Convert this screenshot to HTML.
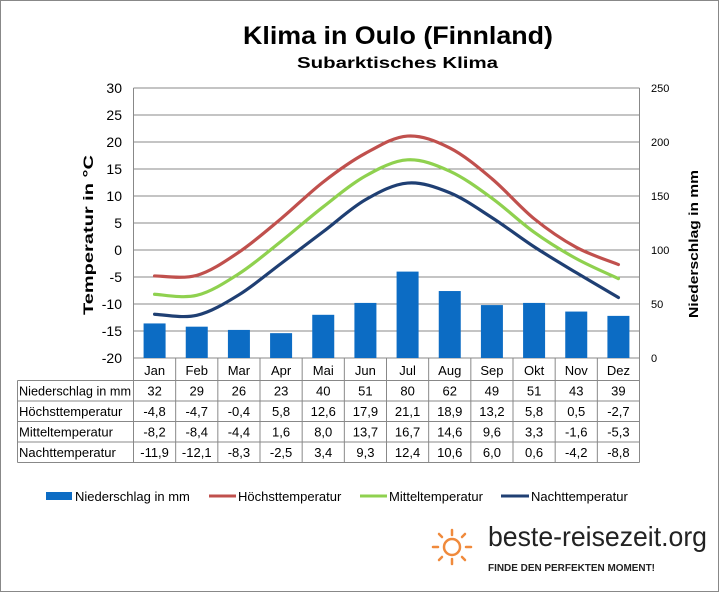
<!DOCTYPE html>
<html><head><meta charset="utf-8"><style>
html,body{margin:0;padding:0;background:#fff}
svg{display:block;font-family:"Liberation Sans",Arial,sans-serif}
</style></head><body>
<svg id="chart" width="720" height="593" viewBox="0 0 720 593">
<rect x="0.5" y="0.5" width="718" height="591" fill="#fff" stroke="#888"/>
<text x="243" y="44" textLength="310" lengthAdjust="spacingAndGlyphs" font-size="25" font-weight="bold">Klima in Oulo (Finnland)</text>
<text x="297" y="68" textLength="201" lengthAdjust="spacingAndGlyphs" font-size="16" font-weight="bold">Subarktisches Klima</text>
<g id="grid"></g>
<g id="bars"></g>
<g id="lines"></g>
<g id="table"></g>
<text transform="translate(93,315) rotate(-90)" textLength="160" lengthAdjust="spacingAndGlyphs" font-size="14" font-weight="bold">Temperatur in °C</text>
<text transform="translate(698,318) rotate(-90)" textLength="148" lengthAdjust="spacingAndGlyphs" font-size="13" font-weight="bold">Niederschlag in mm</text>
<g>
<g><rect x="46" y="492" width="26" height="8" fill="#0c6cc4"/><text x="75" y="501" font-size="13">Niederschlag in mm</text></g>
<g><line x1="209" y1="496" x2="236" y2="496" stroke="#c0504d" stroke-width="3"/><text x="238" y="501" font-size="13">Höchsttemperatur</text></g>
<g><line x1="360" y1="496" x2="387" y2="496" stroke="#8fd14f" stroke-width="3"/><text x="389" y="501" font-size="13">Mitteltemperatur</text></g>
<g><line x1="501" y1="496" x2="529" y2="496" stroke="#1f3f73" stroke-width="3"/><text x="531" y="501" font-size="13">Nachttemperatur</text></g>
</g>
<g>
<g stroke="#f08a3c" stroke-width="2.5" stroke-linecap="round" fill="none">
<circle cx="452" cy="547" r="8"/>
<line x1="452" y1="530" x2="452" y2="535"/><line x1="452" y1="559" x2="452" y2="564"/>
<line x1="433" y1="547" x2="438" y2="547"/><line x1="466" y1="547" x2="471" y2="547"/>
<line x1="439" y1="534" x2="442" y2="537"/><line x1="462" y1="557" x2="465" y2="560"/>
<line x1="465" y1="534" x2="462" y2="537"/><line x1="439" y1="560" x2="442" y2="557"/>
</g>
<text x="488" y="546" textLength="219" lengthAdjust="spacingAndGlyphs" font-size="28" fill="#222">beste-reisezeit.org</text>
<text x="488" y="571" textLength="167" lengthAdjust="spacingAndGlyphs" font-size="10" font-weight="bold" fill="#222">FINDE DEN PERFEKTEN MOMENT!</text>
</g>
</svg>
<script>
const months=["Jan","Feb","Mar","Apr","Mai","Jun","Jul","Aug","Sep","Okt","Nov","Dez"];
const precip=[32,29,26,23,40,51,80,62,49,51,43,39];
const tHigh=[-4.8,-4.7,-0.4,5.8,12.6,17.9,21.1,18.9,13.2,5.8,0.5,-2.7];
const tMean=[-8.2,-8.4,-4.4,1.6,8.0,13.7,16.7,14.6,9.6,3.3,-1.6,-5.3];
const tNight=[-11.9,-12.1,-8.3,-2.5,3.4,9.3,12.4,10.6,6.0,0.6,-4.2,-8.8];
const leftTicks=[30,25,20,15,10,5,0,-5,-10,-15,-20];
const rightTicks=[250,200,150,100,50,0];
const NS="http://www.w3.org/2000/svg";
const L=133.5,R=639.5,T=88,B=358;
const cw=(R-L)/12;
const xC=i=>L+cw*(i+0.5);
const yT=v=>B-(v+20)/50*(B-T);
const yP=v=>B-v/250*(B-T);
function mk(tag,parent,attrs){const e=document.createElementNS(NS,tag);for(const k in attrs)e.setAttribute(k,attrs[k]);parent.appendChild(e);return e;}
const grid=document.getElementById('grid');
leftTicks.forEach(v=>{
  const y=yT(v);
  const l=mk('line',grid,{x1:L,x2:R,y1:y,y2:y,stroke:'#888','stroke-width':1});
  
  
  const t=mk('text',grid,{x:122,y:y+5,'text-anchor':'end','font-size':14});
  t.textContent=v;
  
  
});
rightTicks.forEach(v=>{
  const t=mk('text',grid,{x:651,y:yP(v)+4,'font-size':11});
  t.textContent=v;
  
  
});
mk('line',grid,{x1:L,x2:L,y1:T,y2:B,stroke:'#888'});
mk('line',grid,{x1:R,x2:R,y1:T,y2:B,stroke:'#888'});
const bars=document.getElementById('bars');
precip.forEach((v,i)=>{
  const r=mk('rect',bars,{x:xC(i)-11,y:yP(v),width:22,height:B-yP(v),fill:'#0c6cc4'});
  
  
});
function smooth(vals){
  const p=vals.map((v,i)=>[xC(i),yT(v)]);
  let d='M'+p[0][0]+','+p[0][1];
  for(let i=0;i<p.length-1;i++){
    const p0=p[Math.max(0,i-1)],p1=p[i],p2=p[i+1],p3=p[Math.min(p.length-1,i+2)];
    const c1=[p1[0]+(p2[0]-p0[0])/6,p1[1]+(p2[1]-p0[1])/6];
    const c2=[p2[0]-(p3[0]-p1[0])/6,p2[1]-(p3[1]-p1[1])/6];
    d+=' C'+c1+' '+c2+' '+p2;
  }
  return d;
}
const lines=document.getElementById('lines');
[[tHigh,'#c0504d','line-hoechst'],[tMean,'#8fd14f','line-mittel'],[tNight,'#1f3f73','line-nacht']].forEach(([vals,col,name])=>{
  const p=mk('path',lines,{d:smooth(vals),fill:'none',stroke:col,'stroke-width':3.2,'stroke-linecap':'round'});
  
  
});
const tbl=document.getElementById('table');
const rowsY=[358,380.5,401,421.5,442,462.5];
const rowLabels=["Niederschlag in mm","Höchsttemperatur","Mitteltemperatur","Nachttemperatur"];
const rowData=[precip.map(String),tHigh.map(v=>v.toFixed(1).replace('.',',')),tMean.map(v=>v.toFixed(1).replace('.',',')),tNight.map(v=>v.toFixed(1).replace('.',','))];
for(let i=0;i<=12;i++){const x=L+cw*i;mk('line',tbl,{x1:x,x2:x,y1:358,y2:rowsY[5],stroke:'#888'});}
mk('line',tbl,{x1:17.5,x2:17.5,y1:rowsY[1],y2:rowsY[5],stroke:'#888'});
for(let r=1;r<6;r++){mk('line',tbl,{x1:17.5,x2:R,y1:rowsY[r],y2:rowsY[r],stroke:'#888'});}
months.forEach((m,i)=>{
  const t=mk('text',tbl,{x:xC(i),y:375,'text-anchor':'middle','font-size':13});
  t.textContent=m;
  
  
});
rowLabels.forEach((lab,r)=>{
  const y=rowsY[r+1]+15;
  const t=mk('text',tbl,{x:19,y:y,'font-size':13});
  if(lab.length>16){t.setAttribute('textLength',112);t.setAttribute('lengthAdjust','spacingAndGlyphs');}
  t.textContent=lab;
  
  
  rowData[r].forEach((v,i)=>{
    const c=mk('text',tbl,{x:xC(i),y:y,'text-anchor':'middle','font-size':13});
    c.textContent=v;
    
    
  });
});
</script>
</body></html>
